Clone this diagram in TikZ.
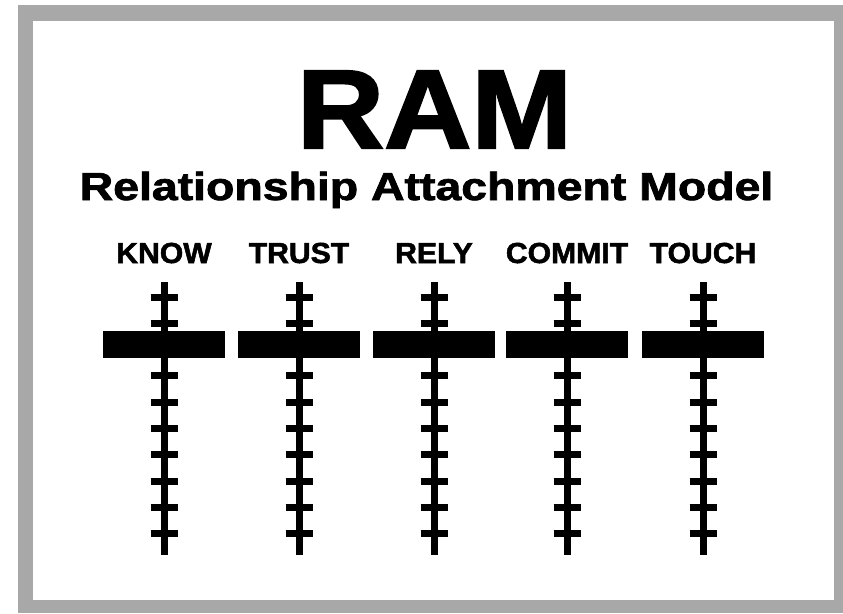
\documentclass[tikz,border=0pt]{standalone}
\usepackage{fontspec}
\setmainfont{Liberation Sans}
\newfontfamily\heavyfont[FakeBold=1.8]{Liberation Sans Bold}
\definecolor{framegray}{HTML}{A8A8A8}
\begin{document}
\begin{tikzpicture}[x=1pt,y=-1pt,
  stem/.style={line width=7pt},
  tickmark/.style={line width=7pt},
  barbox/.style={fill=black, draw=none, minimum width=122pt, minimum height=27pt, inner sep=0pt},
  lbl/.style={font=\heavyfont\fontsize{29}{29}\selectfont, anchor=base, inner sep=0pt}]
\useasboundingbox (0,0) rectangle (843,613);
\fill[white] (0,0) rectangle (843,613);
\fill[framegray] (18,5) rectangle (843,613);
\fill[white] (33,21) rectangle (834,600);
\node[anchor=base, inner sep=0pt] (ram) at (434.5,148)
  {\heavyfont\fontsize{112}{112}\selectfont\scalebox{1.08}[1]{RAM}};
\node[anchor=base, inner sep=0pt] (sub) at (426.5,200)
  {\heavyfont\fontsize{39}{39}\selectfont\scalebox{1.19}[1]{Relationship Attachment Model}};
\foreach \nm/\cx/\lab in {know/164/KNOW, trust/299/TRUST, rely/434/RELY, commit/567/COMMIT, touch/703/TOUCH}{
  \node[lbl] (\nm-label) at (\cx,263) {\scalebox{1.04}[1]{\lab}};
  \coordinate (\nm-top) at (\cx,282);
  \coordinate (\nm-bot) at (\cx,555);
  \draw[stem] (\nm-top) -- (\nm-bot);
  \foreach \k in {0,1,3,4,5,6,7,8,9}{
    \draw[tickmark] ([xshift=-13.5pt,yshift={-(15+26.3*\k)*1pt}]\nm-top) -- ([xshift=13.5pt,yshift={-(15+26.3*\k)*1pt}]\nm-top);
  }
  \node[barbox] (\nm-bar) at (\cx,344.5) {};
}
\end{tikzpicture}
\end{document}
